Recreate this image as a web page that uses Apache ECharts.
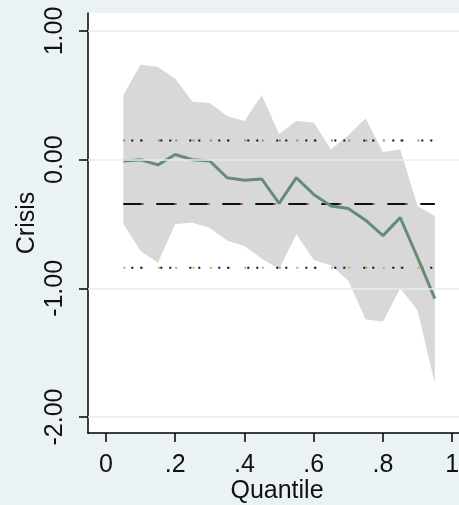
<!DOCTYPE html>
<html>
<head>
<meta charset="utf-8">
<script src="https://cdn.jsdelivr.net/npm/echarts@6/dist/echarts.min.js"></script>
<style>
  html, body { margin: 0; padding: 0; background: #eaf2f3; }
  #chart { width: 459px; height: 505px; }
</style>
</head>
<body>
<div id="chart"></div>
<script>
// quantiles and coefficients
const quantiles = [0.05, 0.10, 0.15, 0.20, 0.25, 0.30, 0.35, 0.40, 0.45, 0.50,
                   0.55, 0.60, 0.65, 0.70, 0.75, 0.80, 0.85, 0.90, 0.95];
const coef  = [-0.01, 0.00, -0.04, 0.04, 0.00, -0.01, -0.14, -0.16, -0.15, -0.34,
               -0.14, -0.27, -0.36, -0.38, -0.47, -0.59, -0.45, -0.76, -1.08];
const upper = [0.50, 0.74, 0.72, 0.63, 0.45, 0.44, 0.34, 0.30, 0.50, 0.20,
               0.30, 0.29, 0.08, 0.19, 0.32, 0.06, 0.08, -0.36, -0.44];
const lower = [-0.50, -0.71, -0.80, -0.50, -0.49, -0.53, -0.63, -0.67, -0.77, -0.85,
               -0.58, -0.78, -0.82, -0.94, -1.24, -1.26, -1.00, -1.17, -1.74];
// OLS estimate and its confidence bounds (flat lines)
const olsCoef = -0.345;
const olsUpper = 0.15;
const olsLower = -0.84;

const xTicks = [0, 0.2, 0.4, 0.6, 0.8, 1];
const xTickLabels = ['0', '.2', '.4', '.6', '.8', '1'];
const yTicks = [1, 0, -1, -2];
const yTickLabels = ['1.00', '0.00', '-1.00', '-2.00'];

const font = "'Liberation Sans', Arial, sans-serif";
const qFirst = quantiles[0], qLast = quantiles[quantiles.length - 1];

function flat(v) {
  return [[qFirst, v], [qLast, v]];
}
function pickLabel(ticks, labels) {
  return function (v) {
    for (let i = 0; i < ticks.length; i++) {
      if (Math.abs(ticks[i] - v) < 1e-6) return labels[i];
    }
    return '';
  };
}

// confidence band as one polygon: upper edge left->right, lower edge back
function renderBand(params, api) {
  if (params.dataIndex !== 0) return null;
  let pts = [];
  for (let i = 0; i < quantiles.length; i++) pts.push(api.coord([quantiles[i], upper[i]]));
  for (let i = quantiles.length - 1; i >= 0; i--) pts.push(api.coord([quantiles[i], lower[i]]));
  return {
    type: 'polygon',
    shape: { points: pts },
    style: { fill: '#d8d8d8', stroke: null }
  };
}

let myChart = echarts.init(document.getElementById('chart'), null, { renderer: 'canvas' });

let option = {
  backgroundColor: '#eaf2f3',
  animation: false,
  grid: {
    left: 88, top: 13, width: 378, height: 420,
    outerBoundsMode: 'none',
    backgroundColor: '#ffffff', show: true, borderWidth: 0
  },
  xAxis: {
    type: 'value',
    min: -0.052, max: 1.04,
    name: 'Quantile',
    nameLocation: 'middle',
    nameGap: 46,
    nameMoveOverlap: false,
    nameTextStyle: { fontFamily: font, fontSize: 25, color: '#111' },
    axisLine: { show: true, onZero: false, lineStyle: { color: '#000', width: 1.5 } },
    axisTick: { show: true, length: 9, lineStyle: { color: '#000', width: 1.5 }, customValues: xTicks },
    axisLabel: {
      fontFamily: font, fontSize: 25, color: '#111', margin: 20,
      customValues: xTicks,
      formatter: pickLabel(xTicks, xTickLabels)
    },
    splitLine: { show: false }
  },
  yAxis: {
    type: 'value',
    min: -2.124, max: 1.14,
    name: 'Crisis',
    nameLocation: 'middle',
    nameRotate: 90,
    nameGap: 48,
    nameMoveOverlap: false,
    nameTextStyle: { fontFamily: font, fontSize: 25, color: '#111' },
    axisLine: { show: true, onZero: false, lineStyle: { color: '#000', width: 1.5 } },
    axisTick: { show: true, length: 9, lineStyle: { color: '#000', width: 1.5 }, customValues: yTicks },
    axisLabel: {
      fontFamily: font, fontSize: 25, color: '#111', margin: 20, rotate: 90,
      customValues: yTicks,
      formatter: pickLabel(yTicks, yTickLabels)
    },
    splitLine: { show: false }
  },
  series: [
    {
      // grid lines
      type: 'line', data: [], silent: true,
      markLine: {
        silent: true, symbol: 'none', label: { show: false },
        lineStyle: { color: '#e3eef1', width: 1.5, type: 'solid' },
        data: yTicks.map(function (v) { return { yAxis: v }; })
      }
    },
    {
      type: 'custom', silent: true,
      renderItem: renderBand,
      encode: { x: 0, y: [1, 2] },
      data: quantiles.map(function (q, i) { return [q, lower[i], upper[i]]; })
    },
    // OLS upper bound: green and black dots
    { type: 'line', symbol: 'none', data: flat(olsUpper),
      lineStyle: { color: '#7f9f55', width: 2, type: [2, 15.3] } },
    { type: 'line', symbol: 'none', data: flat(olsUpper),
      lineStyle: { color: '#111', width: 2, type: [2, 7, 2, 18], dashOffset: -8 } },
    // OLS lower bound: orange and black dots
    { type: 'line', symbol: 'none', data: flat(olsLower),
      lineStyle: { color: '#f0a030', width: 2, type: [2, 15.3] } },
    { type: 'line', symbol: 'none', data: flat(olsLower),
      lineStyle: { color: '#111', width: 2, type: [2, 7, 2, 18], dashOffset: -8 } },
    // OLS estimate: long dashes
    { type: 'line', symbol: 'none', data: flat(olsCoef),
      lineStyle: { color: '#111', width: 2, type: [20, 13] } },
    { type: 'line', symbol: 'none', data: flat(olsCoef),
      lineStyle: { color: '#c04848', width: 2, type: [2, 31], dashOffset: -18 } },
    // quantile regression coefficient
    {
      type: 'line', symbol: 'none',
      lineStyle: { color: '#668b7b', width: 3 },
      data: quantiles.map(function (q, i) { return [q, coef[i]]; })
    }
  ]
};

myChart.setOption(option);
</script>
</body>
</html>
